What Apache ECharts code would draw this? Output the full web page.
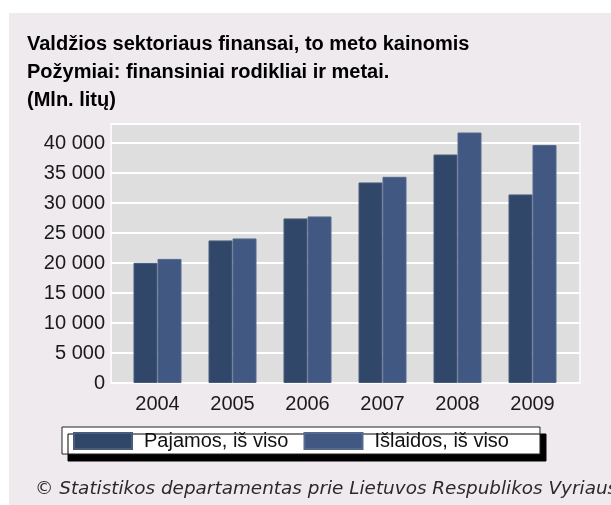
<!DOCTYPE html>
<html>
<head>
<meta charset="utf-8">
<script src="https://cdn.jsdelivr.net/npm/echarts@6/dist/echarts.min.js"></script>
<style>
  html, body { margin: 0; padding: 0; background: #ffffff; }
  #chart { width: 611px; height: 505px; }
</style>
</head>
<body>
<div id="chart"></div>
<script>
// metai ir reikšmės (mln. litų), nuskaityta nuo paveikslėlio
var years = ['2004', '2005', '2006', '2007', '2008', '2009'];
var pajamos = [20050, 23780, 27450, 33450, 38110, 31450];
var islaidos = [20700, 24110, 27780, 34390, 41780, 39700];
var seriesNames = ['Pajamos, iš viso', 'Išlaidos, iš viso'];
var titleLines = [
    'Valdžios sektoriaus finansai, to meto kainomis',
    'Požymiai: finansiniai rodikliai ir metai.',
    '(Mln. litų)'
];
var footer = '© Statistikos departamentas prie Lietuvos Respublikos Vyriausybės';

var yMax = 43200;

function fmt(v) {
    return String(v).replace(/\B(?=(\d{3})+(?!\d))/g, ' ');
}

var chart = echarts.init(document.getElementById('chart'), null, { renderer: 'canvas' });

var option = {
    backgroundColor: '#ffffff',
    animation: false,
    color: ['#31476a', '#415882'],
    graphic: [{
        type: 'rect',
        z: -10,
        shape: { x: 9, y: 13, width: 602, height: 492 },
        style: { fill: '#eeeaee' }
    }, {
        type: 'text',
        left: 35,
        top: 480,
        style: {
            text: footer,
            fill: '#2a2a2a',
            font: 'italic 18.4px "DejaVu Sans"'
        }
    }],
    title: {
        text: titleLines.join('\n'),
        left: 27,
        top: 30,
        padding: 0,
        textStyle: {
            fontFamily: 'Liberation Sans, Arial',
            fontWeight: 'bold',
            fontSize: 20,
            lineHeight: 28,
            color: '#000000'
        }
    },
    legend: {
        data: seriesNames,
        left: 62,
        top: 427,
        padding: [4, 31, 3, 11],
        itemGap: 15,
        itemWidth: 58,
        itemHeight: 16,
        icon: 'rect',
        backgroundColor: '#ffffff',
        borderColor: '#222222',
        borderWidth: 1,
        borderRadius: 0,
        shadowColor: '#000000',
        shadowBlur: 0,
        shadowOffsetX: 6,
        shadowOffsetY: 7,
        textStyle: {
            fontFamily: 'Liberation Sans, Arial',
            fontSize: 20,
            color: '#111111',
            padding: [0, 0, 0, 7]
        }
    },
    grid: [{
        left: 111, top: 124, width: 469, height: 259,
        show: true,
        backgroundColor: '#dedede',
        borderColor: '#f8f8f8',
        borderWidth: 2
    }, {
        left: 120, top: 124, width: 450, height: 259
    }],
    xAxis: [{
        gridIndex: 0,
        type: 'value',
        min: 0, max: 1,
        show: false
    }, {
        gridIndex: 1,
        type: 'category',
        data: years,
        axisLine: { show: false },
        axisTick: { show: false },
        axisLabel: {
            margin: 11,
            fontFamily: 'Liberation Sans, Arial',
            fontSize: 20,
            color: '#1a1a1a'
        }
    }],
    yAxis: [{
        gridIndex: 0,
        type: 'value',
        min: 0,
        max: yMax,
        interval: 5000,
        axisLine: { show: false },
        axisTick: { show: false },
        axisLabel: {
            margin: 6,
            showMaxLabel: false,
            fontFamily: 'Liberation Sans, Arial',
            fontSize: 20,
            color: '#1a1a1a',
            formatter: function (v) { return v >= yMax ? '' : fmt(v); }
        },
        splitLine: { lineStyle: { color: '#ffffff', width: 2 } }
    }, {
        gridIndex: 1,
        type: 'value',
        min: 0,
        max: yMax,
        show: false
    }],
    series: [{
        name: seriesNames[0],
        type: 'bar',
        xAxisIndex: 1,
        yAxisIndex: 1,
        data: pajamos,
        barWidth: 24,
        barGap: '0%',
        itemStyle: { borderColor: '#4a5c7c', borderWidth: 1 }
    }, {
        name: seriesNames[1],
        type: 'bar',
        xAxisIndex: 1,
        yAxisIndex: 1,
        data: islaidos,
        barWidth: 24,
        barGap: '0%',
        itemStyle: { borderColor: '#56698d', borderWidth: 1 }
    }]
};

chart.setOption(option);
</script>
</body>
</html>
